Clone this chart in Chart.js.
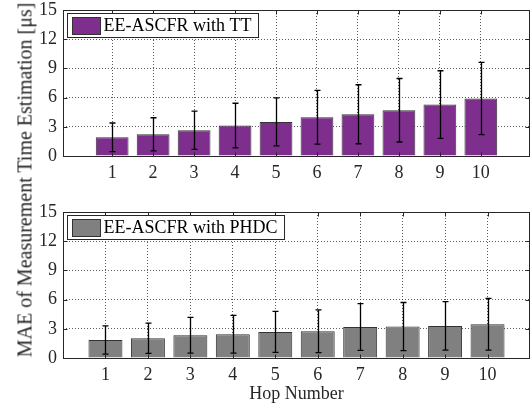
<!DOCTYPE html>
<html>
<head>
<meta charset="utf-8">
<script src="https://cdn.jsdelivr.net/npm/chart.js@4.4.1/dist/chart.umd.min.js"></script>
<style>
  body { margin: 0; background: #fff; }
  #wrap { position: relative; width: 531px; height: 405px; overflow: hidden; }
  #topBox { position: absolute; left: 0; top: 0; width: 531px; height: 185px; }
  #botBox { position: absolute; left: 0; top: 200px; width: 531px; height: 205px; }
  #yTitle {
    position: absolute; left: 25px; top: 180px; white-space: nowrap;
    font: 20px "Liberation Serif", serif; color: #262626;
    transform: translate(-50%, -50%) rotate(-90deg);
  }
</style>
</head>
<body>
<div id="wrap">
  <div id="topBox"><canvas id="topChart"></canvas></div>
  <div id="botBox"><canvas id="botChart"></canvas></div>
  <div id="yTitle">MAE of Measurement Time Estimation [μs]</div>
</div>
<script>
// Data
const hops = [1, 2, 3, 4, 5, 6, 7, 8, 9, 10];
const ttMae = [1.92, 2.23, 2.65, 3.13, 3.5, 3.98, 4.29, 4.7, 5.29, 5.91];
const ttErr = [1.47, 1.7, 1.96, 2.29, 2.47, 2.77, 3.03, 3.26, 3.47, 3.71];
const phdcMae = [1.85, 2.03, 2.34, 2.44, 2.68, 2.75, 3.19, 3.23, 3.3, 3.47];
const phdcErr = [1.46, 1.56, 1.83, 1.94, 2.11, 2.2, 2.4, 2.47, 2.49, 2.66];
const yTicks = [0, 3, 6, 9, 12, 15];

Chart.defaults.font.family = '"Liberation Serif", serif';
Chart.defaults.font.size = 18;
Chart.defaults.color = '#262626';

//Errorbary, ramik, kratke ciarky a legenda vnutri grafu
const framePlugin = {
  id: 'frame',
  afterDatasetsDraw(chart) {
    const ctx = chart.ctx;
    const xs = chart.scales.x, ys = chart.scales.y;
    const ds = chart.data.datasets[0];
    ctx.save();
    ctx.strokeStyle = '#000';
    ctx.lineWidth = 1.3;
    ds.data.forEach((p, i) => {
      const e = ds.errors[i];
      const x = Math.round(xs.getPixelForValue(p.x)) + 0.5;
      const yHi = ys.getPixelForValue(p.y + e);
      const yLo = ys.getPixelForValue(p.y - e);
      ctx.beginPath();
      ctx.moveTo(x, yHi); ctx.lineTo(x, yLo);
      ctx.moveTo(x - 3, yHi); ctx.lineTo(x + 3, yHi);
      ctx.moveTo(x - 3, yLo); ctx.lineTo(x + 3, yLo);
      ctx.stroke();
    });
    ctx.restore();
  },
  afterDraw(chart) {
    const ctx = chart.ctx;
    const a = chart.chartArea;
    const xs = chart.scales.x, ys = chart.scales.y;
    const L = Math.round(a.left) + 0.5, R = Math.round(a.right) - 0.5;
    const T = Math.round(a.top) + 0.5, B = Math.round(a.bottom) + 0.5;
    ctx.save();
    ctx.strokeStyle = '#262626';
    ctx.lineWidth = 1;
    ctx.beginPath();
    xs.ticks.forEach(t => {
      const x = Math.round(xs.getPixelForValue(t.value)) + 0.5;
      ctx.moveTo(x, B); ctx.lineTo(x, B - 4);
      ctx.moveTo(x, T); ctx.lineTo(x, T + 4);
    });
    ys.ticks.forEach(t => {
      const y = Math.round(ys.getPixelForValue(t.value)) + 0.5;
      ctx.moveTo(L, y); ctx.lineTo(L + 4, y);
      ctx.moveTo(R, y); ctx.lineTo(R - 4, y);
    });
    ctx.stroke();

    // legenda
    const ds = chart.data.datasets[0];
    ctx.font = '18px "Liberation Serif", serif';
    const tw = ctx.measureText(ds.label).width;
    const lx = L + 4, ly = T + 3;
    const lw = 39 + tw + 4, lh = 24;
    ctx.fillStyle = '#fff';
    ctx.fillRect(lx, ly, lw, lh);
    ctx.strokeStyle = '#262626';
    ctx.strokeRect(lx, ly, lw, lh);
    ctx.fillStyle = ds.backgroundColor;
    ctx.fillRect(lx + 5, ly + 4, 28, 17);
    ctx.strokeStyle = '#333';
    ctx.strokeRect(lx + 5, ly + 4, 28, 17);
    ctx.fillStyle = '#000';
    ctx.textBaseline = 'middle';
    ctx.fillText(ds.label, lx + 36, ly + lh / 2 + 1);

    ctx.strokeStyle = '#262626';
    ctx.strokeRect(L, T, R - L, B - T);
    ctx.restore();
  }
};

function makeChart(id, label, values, errors, color, xRange, padTop, xHeight, showTitle) {
  const ctx = document.getElementById(id).getContext('2d');
  return new Chart(ctx, {
    type: 'bar',
    data: {
      datasets: [{
        label: label,
        data: hops.map((h, i) => ({ x: h, y: values[i] })),
        errors: errors,
        backgroundColor: color,
        borderColor: '#333',
        borderWidth: 1,
        categoryPercentage: 1,
        barPercentage: 0.8
      }]
    },
    options: {
      responsive: true,
      maintainAspectRatio: false,
      animation: false,
      layout: { padding: { top: padTop, right: 1, left: 0, bottom: 0 } },
      plugins: { legend: { display: false }, tooltip: { enabled: false } },
      scales: {
        x: {
          type: 'linear',
          min: xRange[0],
          max: xRange[1],
          offset: false,
          afterBuildTicks: s => { s.ticks = hops.map(v => ({ value: v })); },
          afterFit: s => { s.height = xHeight; s.paddingLeft = 0; s.paddingRight = 0; },
          ticks: { padding: 6, color: '#262626', maxRotation: 0 },
          grid: { offset: false, drawTicks: false, color: 'rgba(38,38,38,0.75)', lineWidth: 1 },
          border: { display: false, dash: [1, 2] },
          title: { display: showTitle, text: 'Hop Number', padding: { top: 0, bottom: 0 }, color: '#262626' }
        },
        y: {
          min: 0,
          max: 15,
          afterBuildTicks: s => { s.ticks = yTicks.map(v => ({ value: v })); },
          afterFit: s => { s.width = 63; s.paddingTop = 0; s.paddingBottom = 0; },
          ticks: { padding: 6, color: '#262626' },
          grid: { drawTicks: false, color: 'rgba(38,38,38,0.75)', lineWidth: 1 },
          border: { display: false, dash: [1, 2] }
        }
      }
    },
    plugins: [framePlugin]
  });
}

makeChart('topChart', 'EE-ASCFR with TT', ttMae, ttErr, '#7E2F8E', [-0.2, 11.2], 10, 29, false);
makeChart('botChart', 'EE-ASCFR with PHDC', phdcMae, phdcErr, '#808080', [0, 11], 12, 47, true);
</script>
</body>
</html>
